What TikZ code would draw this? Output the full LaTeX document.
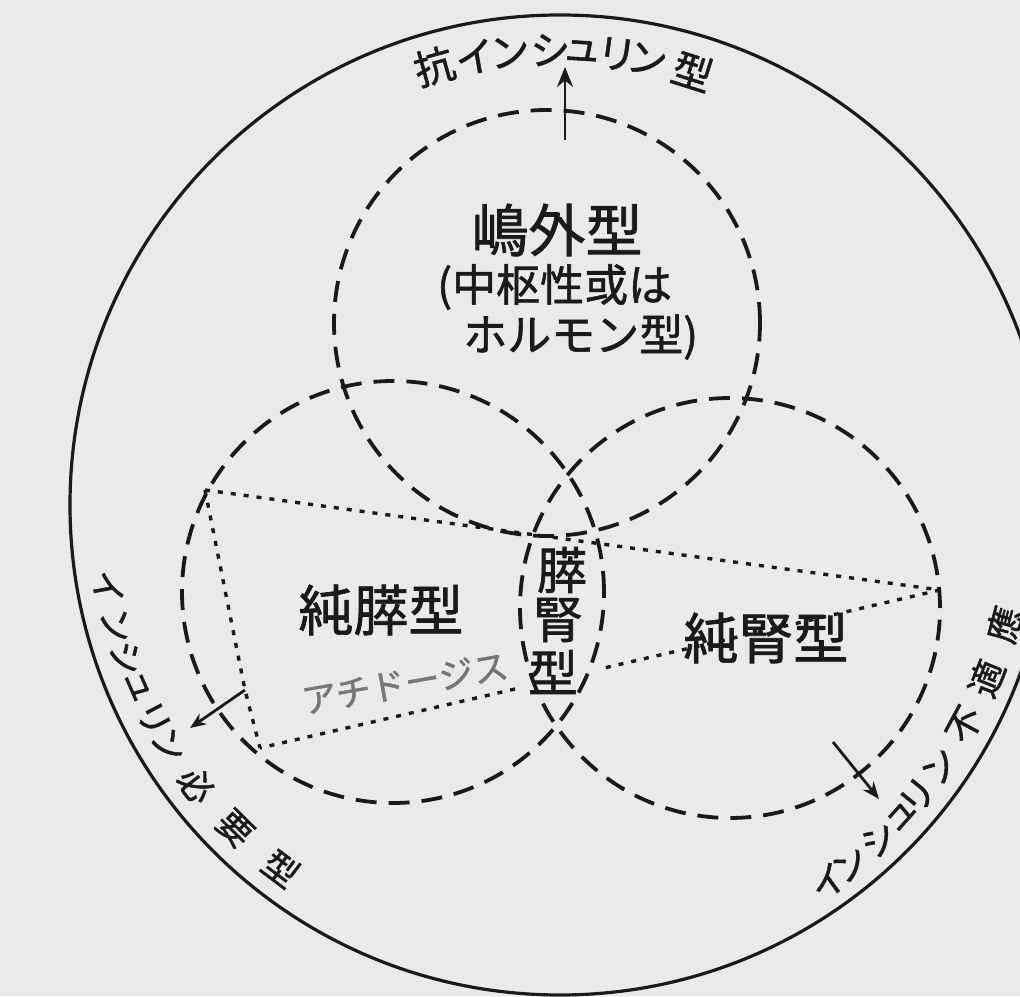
\documentclass[tikz,border=0pt]{standalone}
\usepackage{fontspec}
\newfontfamily\jp[FakeBold=1.3]{Noto Sans CJK JP}
\usetikzlibrary{arrows.meta}
\definecolor{bg}{RGB}{234,234,234}
\definecolor{ink}{RGB}{26,26,26}
\begin{document}
\begin{tikzpicture}[x=1pt,y=1pt,
  bigcirc/.style={circle,draw=ink,line width=3.2pt,inner sep=0pt,minimum size=#1},
  dcirc/.style={circle,draw=ink,line width=3.8pt,dash pattern=on 21pt off 12pt,inner sep=0pt,minimum size=#1},
  dotl/.style={draw=ink,line width=3.4pt,dash pattern=on 5pt off 8pt},
  arr/.style={draw=ink,line width=2.8pt,-{Stealth[length=#1,width=0.8*#1]}},
  lab/.style={inner sep=0pt,text=ink,font=\jp\fontsize{#1}{#1}\selectfont},
]
\useasboundingbox (0,0) rectangle (1020,996);
\clip (0,0) rectangle (1020,996);
\fill[bg] (0,0) rectangle (1020,996);

% circles
\node[bigcirc=980pt] (outer) at (560,491) {};
\node[dcirc=426pt] (ctop) at (547,673) {};
\node[dcirc=422pt] (cleft) at (393,404) {};
\node[dcirc=420pt] (cright) at (730,388) {};

% dotted quadrilateral
\coordinate (A) at (205,506);
\coordinate (B) at (940,406);
\coordinate (E) at (245,306);
\coordinate (D) at (260,248);
\coordinate (Br) at (602,327.5);
\coordinate (Bl) at (515,307);
\draw[dotl] (A) -- (B);
\draw[dotl] (B) -- (Br);
\draw[dotl] (Bl) -- (D);
\draw[dotl] (A) -- (E) -- (D);

% arrows
\coordinate (tA) at (565,856);
\coordinate (tB) at (565,929);
\draw[arr=20pt] (tA) -- (tB);
\coordinate (lB) at (190,268);
\draw[arr=16pt] (E) -- (lB);
\coordinate (rA) at (833,254);
\coordinate (rB) at (879,197);
\draw[arr=17pt] (rA) -- (rB);

% labels
\node[lab=57] (shimagai) at (557,766) {嶋外型};
\node[lab=44,anchor=west] (chusu) at (437,709) {(中枢性或は};
\node[lab=44,anchor=west] (horumon) at (463,659) {ホルモン型)};
\node[lab=55] (junsui) at (381,386) {純膵型};
\node[lab=55] (junjin) at (766,358) {純腎型};
\node[lab=50] (sj1) at (562,426) {膵};
\node[lab=50] (sj2) at (558,376) {腎};
\node[lab=50] (sj3) at (553,324) {型};
\node[lab=35,text=ink!60,rotate=10] (acid) at (405,313) {アチドージス};

% arc texts
\begin{scope}[shift={(555,491)}]
\foreach \c/\a [count=\i] in {抗/105.4,イ/100.1,ン/95.7,シ/90.6,ュ/86.6,リ/82.2,ン/78.3,型/72.4}
  \node[lab=40,rotate=\a-90] (top\i) at (\a:455) {\c};
\foreach \c/\a [count=\i] in {イ/190.4,ン/195.4,シ/199.7,ュ/203.5,リ/208.0,ン/211.9,必/218.0,要/225.3,型/233.0}
  \node[lab=35,rotate=\a+90] (left\i) at (\a:455) {\c};
\foreach \c/\a [count=\i] in {イ/-54.0,ン/-50.6,シ/-45.9,ュ/-41.9,リ/-38.7,ン/-34.2,不/-28.2,適/-21.9,應/-14.9}
  \node[lab=36,rotate=\a+90] (right\i) at (\a:465) {\c};
\end{scope}
\end{tikzpicture}
\end{document}
